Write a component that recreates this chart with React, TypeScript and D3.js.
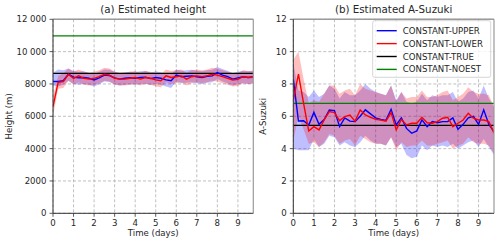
import * as d3 from 'd3'

// time axis: every 6 hours
const TIMES = d3.range(40).map(i => i * 0.25)

// (a) height
const H_UPPER = [8150, 8150, 8200, 8600, 8420, 8380, 8400, 8350, 8250, 8380, 8550, 8520, 8380, 8300, 8350, 8380, 8350, 8400, 8420, 8330, 8400, 8350, 8250, 8200, 8550, 8450, 8480, 8500, 8450, 8400, 8480, 8500, 8700, 8550, 8450, 8300, 8380, 8450, 8400, 8450]
const H_UPPER_HI = [8700, 8900, 8850, 8950, 8800, 8750, 8780, 8700, 8600, 8750, 8900, 8880, 8750, 8680, 8720, 8750, 8720, 8780, 8800, 8700, 8780, 8720, 8620, 8600, 8900, 8820, 8850, 8880, 8820, 8780, 8850, 8880, 9050, 8920, 8820, 8680, 8750, 8820, 8780, 8820]
const H_UPPER_LO = [7900, 7850, 7950, 8200, 8000, 7950, 8000, 7950, 7850, 7980, 8150, 8120, 7980, 7900, 7950, 7980, 7950, 8000, 8020, 7930, 8000, 7950, 7850, 7750, 8150, 8050, 8080, 8100, 8050, 8000, 8080, 8100, 8300, 8150, 8050, 7900, 7980, 8050, 8000, 8050]
const H_LOWER = [6600, 8100, 8150, 8600, 8350, 8500, 8350, 8300, 8350, 8450, 8600, 8550, 8350, 8300, 8300, 8350, 8400, 8300, 8400, 8350, 8250, 8200, 8500, 8400, 8450, 8500, 8300, 8450, 8500, 8450, 8500, 8600, 8550, 8450, 8350, 8250, 8280, 8450, 8400, 8420]
const H_LOWER_HI = [7200, 8500, 8650, 8950, 8750, 8900, 8750, 8700, 8750, 8850, 9000, 8950, 8750, 8700, 8700, 8750, 8800, 8700, 8800, 8750, 8650, 8600, 8900, 8800, 8850, 8900, 8700, 8850, 8900, 8850, 8900, 9000, 8950, 8850, 8750, 8650, 8680, 8850, 8800, 8820]
const H_LOWER_LO = [6000, 7700, 7750, 8200, 7950, 8100, 7950, 7900, 7950, 8050, 8200, 8150, 7950, 7900, 7900, 7950, 8000, 7900, 8000, 7950, 7850, 7800, 8100, 8000, 8050, 8100, 7900, 8050, 8100, 8050, 8100, 8200, 8150, 8050, 7950, 7850, 7880, 8050, 8000, 8020]
const H_TRUE = 8660
const H_NOEST = 10980
const H_TICKS = [0, 2000, 4000, 6000, 8000, 10000, 12000]
const H_TICK_LABELS = ['0', '2000', '4000', '6000', '8000', '10 000', '12 000']

// (b) A-Suzuki
const A_UPPER = [8.3, 5.71, 5.72, 5.46, 6.24, 5.5, 5.8, 6.39, 6.35, 5.36, 5.9, 5.7, 5.67, 6.0, 6.4, 6.15, 5.9, 5.8, 5.75, 6.43, 5.46, 5.9, 5.25, 4.95, 5.1, 5.78, 5.36, 5.67, 5.6, 5.67, 5.67, 5.9, 5.2, 5.5, 5.9, 6.0, 5.5, 6.4, 5.5, 5.05]
const A_UPPER_HI = [9.3, 7.6, 7.5, 7.2, 7.6, 7.2, 7.4, 7.9, 7.7, 7.1, 7.5, 7.3, 7.3, 7.6, 8.0, 7.7, 7.5, 7.4, 7.3, 7.9, 7.0, 7.5, 6.9, 6.8, 6.9, 7.4, 7.0, 7.3, 7.2, 7.3, 7.3, 7.5, 6.9, 7.1, 7.5, 7.6, 7.1, 7.9, 7.1, 6.6]
const A_UPPER_LO = [4.0, 3.9, 3.9, 3.9, 4.6, 4.1, 4.3, 4.8, 4.7, 4.2, 4.4, 4.2, 4.1, 4.4, 4.8, 4.5, 4.3, 4.3, 4.2, 4.7, 4.1, 4.3, 3.6, 3.4, 3.5, 4.2, 3.9, 4.2, 4.1, 4.2, 4.1, 4.3, 4.0, 4.2, 4.4, 4.5, 4.1, 4.6, 4.1, 3.6]
const A_LOWER = [7.0, 8.61, 6.8, 5.09, 5.36, 5.16, 5.78, 6.29, 6.23, 5.73, 5.98, 6.08, 5.7, 6.39, 6.08, 5.94, 5.81, 5.77, 5.7, 6.23, 5.16, 5.81, 5.46, 5.57, 5.57, 5.94, 5.6, 5.57, 5.67, 5.88, 5.94, 5.36, 5.57, 5.77, 6.19, 5.88, 5.77, 5.77, 5.67, 4.95]
const A_LOWER_HI = [9.5, 10.0, 8.3, 6.8, 7.0, 6.9, 7.4, 7.9, 7.9, 7.4, 7.6, 7.7, 7.3, 8.0, 7.7, 7.6, 7.5, 7.4, 7.3, 7.9, 6.9, 7.5, 7.1, 7.2, 7.2, 7.6, 7.2, 7.2, 7.3, 7.5, 7.6, 7.0, 7.2, 7.4, 7.8, 7.5, 7.4, 7.4, 7.3, 6.6]
const A_LOWER_LO = [4.5, 6.0, 5.2, 4.3, 4.4, 4.1, 4.4, 4.9, 4.8, 4.3, 4.5, 4.6, 4.2, 4.8, 4.6, 4.4, 4.3, 4.3, 4.2, 4.7, 3.9, 4.4, 4.1, 4.2, 4.2, 4.5, 4.2, 4.2, 4.3, 4.4, 4.5, 4.0, 4.2, 4.3, 4.7, 4.4, 4.3, 4.3, 4.2, 3.7]
const A_TRUE = 5.44
const A_NOEST = 6.8
const A_TICKS = [0, 2, 4, 6, 8, 10, 12]
const A_TICK_LABELS = ['0', '2', '4', '6', '8', '10', '12']

const X_TICKS = [0, 1, 2, 3, 4, 5, 6, 7, 8, 9]
const LEGEND = [
  { label: 'CONSTANT-UPPER', color: '#0000ff' },
  { label: 'CONSTANT-LOWER', color: '#ff0000' },
  { label: 'CONSTANT-TRUE', color: '#000000' },
  { label: 'CONSTANT-NOEST', color: '#008000' },
]

const FONT = 'DejaVu Sans, sans-serif'
const TOP = 19.3
const BOTTOM = 213.3

type PanelProps = {
  left: number
  right: number
  title: string
  ylabel: string
  ylabelX: number
  ymax: number
  yTicks: number[]
  yTickLabels: string[]
  upper: number[]; upperHi: number[]; upperLo: number[]
  lower: number[]; lowerHi: number[]; lowerLo: number[]
  truth: number
  noest: number
  legend?: boolean
}

function Panel(p: PanelProps) {
  const x = d3.scaleLinear().domain([0, 9.75]).range([p.left, p.right])
  const y = d3.scaleLinear().domain([0, p.ymax]).range([BOTTOM, TOP])
  const clipId = `clip-${p.left}`

  const area = (hi: number[], lo: number[]) =>
    d3.area<number>()
      .x((_, i) => x(TIMES[i]))
      .y0((_, i) => y(lo[i]))
      .y1((_, i) => y(hi[i]))(hi) || ''
  const line = (vals: number[]) =>
    d3.line<number>().x((_, i) => x(TIMES[i])).y(v => y(v))(vals) || ''

  const midY = (TOP + BOTTOM) / 2

  return (
    <g fontFamily={FONT}>
      <defs>
        <clipPath id={clipId}>
          <rect x={p.left} y={TOP} width={p.right - p.left} height={BOTTOM - TOP} />
        </clipPath>
      </defs>

      {/* grid */}
      {X_TICKS.map(t => (
        <line key={'gx' + t} x1={x(t)} x2={x(t)} y1={TOP} y2={BOTTOM}
          stroke="#b0b0b0" strokeWidth={0.8} strokeDasharray="3,2" />
      ))}
      {p.yTicks.map(t => (
        <line key={'gy' + t} x1={p.left} x2={p.right} y1={y(t)} y2={y(t)}
          stroke="#b0b0b0" strokeWidth={0.8} strokeDasharray="3,2" />
      ))}

      <g clipPath={`url(#${clipId})`}>
        <path d={area(p.upperHi, p.upperLo)} fill="#0000ff" fillOpacity={0.25} />
        <path d={area(p.lowerHi, p.lowerLo)} fill="#ff0000" fillOpacity={0.25} />
        <line x1={p.left} x2={p.right} y1={y(p.truth)} y2={y(p.truth)} stroke="#000" strokeWidth={1.3} />
        <line x1={p.left} x2={p.right} y1={y(p.noest)} y2={y(p.noest)} stroke="#008000" strokeWidth={1.3} />
        <path d={line(p.upper)} fill="none" stroke="#0000ff" strokeWidth={1.4} />
        <path d={line(p.lower)} fill="none" stroke="#ff0000" strokeWidth={1.4} />
      </g>

      {/* spines */}
      <line x1={p.left} x2={p.right} y1={TOP} y2={TOP} stroke="#9a9a9a" strokeWidth={1.4} />
      <line x1={p.right} x2={p.right} y1={TOP} y2={BOTTOM} stroke="#9a9a9a" strokeWidth={1.2} />
      <line x1={p.left} x2={p.left} y1={TOP} y2={BOTTOM} stroke="#333" strokeWidth={1} />
      <line x1={p.left} x2={p.right} y1={BOTTOM} y2={BOTTOM} stroke="#333" strokeWidth={1} />

      {/* ticks */}
      {X_TICKS.map(t => (
        <g key={'tx' + t}>
          <line x1={x(t)} x2={x(t)} y1={BOTTOM} y2={BOTTOM + 3.5} stroke="#333" strokeWidth={0.8} />
          <text x={x(t)} y={BOTTOM + 13} fontSize={8.6} textAnchor="middle" fill="#262626">{t}</text>
        </g>
      ))}
      {p.yTicks.map((t, i) => (
        <g key={'ty' + t}>
          <line x1={p.left - 3.5} x2={p.left} y1={y(t)} y2={y(t)} stroke="#333" strokeWidth={0.8} />
          <text x={p.left - 6.5} y={y(t)} dy="0.35em" fontSize={8.6} textAnchor="end" fill="#262626">
            {p.yTickLabels[i]}
          </text>
        </g>
      ))}

      <text x={(p.left + p.right) / 2} y={236} fontSize={8.6} textAnchor="middle" fill="#262626">Time (days)</text>
      <text transform={`translate(${p.ylabelX},${midY}) rotate(-90)`} fontSize={8.6} textAnchor="middle" fill="#262626">
        {p.ylabel}
      </text>
      <text x={(p.left + p.right) / 2} y={13} fontSize={10.3} textAnchor="middle" fill="#262626">{p.title}</text>

      {p.legend && (
        <g>
          <rect x={372.7} y={20.7} width={118} height={56.6} rx={2} fill="#fff" fillOpacity={0.8} stroke="#cccccc" strokeWidth={0.8} />
          {LEGEND.map((d, i) => {
            const ly = 30.7 + i * 12.9
            return (
              <g key={d.label}>
                <line x1={376.7} x2={396.7} y1={ly} y2={ly} stroke={d.color} strokeWidth={1.4} />
                <text x={402.7} y={ly} dy="0.35em" fontSize={8.6} fill="#262626">{d.label}</text>
              </g>
            )
          })}
        </g>
      )}
    </g>
  )
}

export default function App() {
  return (
    <svg width={500} height={246} style={{ position: 'absolute', left: 0, top: 0, background: '#fff' }}>
      <Panel
        left={53} right={253.3}
        title="(a) Estimated height" ylabel="Height (m)" ylabelX={12}
        ymax={12000} yTicks={H_TICKS} yTickLabels={H_TICK_LABELS}
        upper={H_UPPER} upperHi={H_UPPER_HI} upperLo={H_UPPER_LO}
        lower={H_LOWER} lowerHi={H_LOWER_HI} lowerLo={H_LOWER_LO}
        truth={H_TRUE} noest={H_NOEST}
      />
      <Panel
        left={293.3} right={494}
        title="(b) Estimated A-Suzuki" ylabel="A-Suzuki" ylabelX={266}
        ymax={12} yTicks={A_TICKS} yTickLabels={A_TICK_LABELS}
        upper={A_UPPER} upperHi={A_UPPER_HI} upperLo={A_UPPER_LO}
        lower={A_LOWER} lowerHi={A_LOWER_HI} lowerLo={A_LOWER_LO}
        truth={A_TRUE} noest={A_NOEST}
        legend
      />
    </svg>
  )
}
